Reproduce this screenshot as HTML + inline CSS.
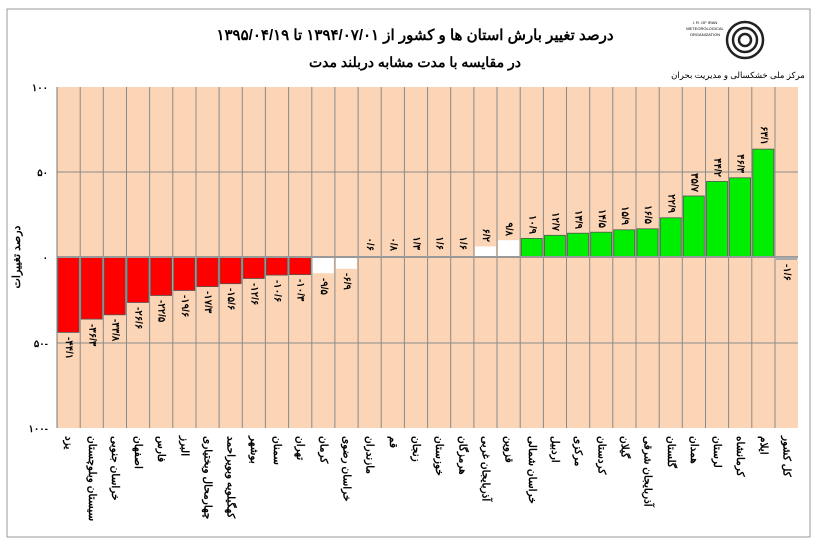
<!DOCTYPE html>
<html><head><meta charset="utf-8"><style>
html,body{margin:0;padding:0;background:#fff;}
svg{display:block;font-family:"Liberation Sans","Noto Sans CJK SC",sans-serif;}
.v{font-size:10px;font-weight:bold;fill:#000;}
.c{font-size:10.5px;font-weight:bold;fill:#000;}
</style></head><body>
<svg width="817" height="545" viewBox="0 0 817 545">
<rect x="7" y="9" width="803" height="528" fill="#fff" stroke="#999" stroke-width="1"/>
<text x="415" y="40" text-anchor="middle" font-size="15" font-weight="bold" direction="rtl">درصد تغییر بارش استان ها و کشور از ۱۳۹۴/۰۷/۰۱ تا ۱۳۹۵/۰۴/۱۹</text>
<text x="415" y="67" text-anchor="middle" font-size="14" font-weight="bold" direction="rtl">در مقایسه با مدت مشابه دربلند مدت</text>
<g fill="none" stroke="#222" stroke-width="2.5"><circle cx="745" cy="40" r="18"/><circle cx="745" cy="40" r="12"/><circle cx="745" cy="40" r="6"/></g>
<g font-size="4" text-anchor="middle"><text x="705" y="24">I. R. OF IRAN</text><text x="705" y="30">METEOROLOGICAL</text><text x="705" y="36">ORGANIZATION</text></g>
<text transform="translate(738,78)" text-anchor="middle" font-size="8.5">مرکز ملی خشکسالی و مدیریت بحران</text>
<rect x="57" y="87" width="741" height="341" fill="#fbd5b5"/>
<g stroke="#8a8a8a" stroke-width="1">
<line x1="57" y1="172" x2="798" y2="172"/><line x1="57" y1="343" x2="798" y2="343"/>
<line x1="80.2" y1="87" x2="80.2" y2="428"/><line x1="103.3" y1="87" x2="103.3" y2="428"/><line x1="126.5" y1="87" x2="126.5" y2="428"/><line x1="149.6" y1="87" x2="149.6" y2="428"/><line x1="172.8" y1="87" x2="172.8" y2="428"/><line x1="196" y1="87" x2="196" y2="428"/><line x1="219.1" y1="87" x2="219.1" y2="428"/><line x1="242.3" y1="87" x2="242.3" y2="428"/><line x1="265.4" y1="87" x2="265.4" y2="428"/><line x1="288.6" y1="87" x2="288.6" y2="428"/><line x1="311.8" y1="87" x2="311.8" y2="428"/><line x1="334.9" y1="87" x2="334.9" y2="428"/><line x1="358.1" y1="87" x2="358.1" y2="428"/><line x1="381.2" y1="87" x2="381.2" y2="428"/><line x1="404.4" y1="87" x2="404.4" y2="428"/><line x1="427.6" y1="87" x2="427.6" y2="428"/><line x1="450.7" y1="87" x2="450.7" y2="428"/><line x1="473.9" y1="87" x2="473.9" y2="428"/><line x1="497" y1="87" x2="497" y2="428"/><line x1="520.2" y1="87" x2="520.2" y2="428"/><line x1="543.4" y1="87" x2="543.4" y2="428"/><line x1="566.5" y1="87" x2="566.5" y2="428"/><line x1="589.7" y1="87" x2="589.7" y2="428"/><line x1="612.8" y1="87" x2="612.8" y2="428"/><line x1="636" y1="87" x2="636" y2="428"/><line x1="659.2" y1="87" x2="659.2" y2="428"/><line x1="682.3" y1="87" x2="682.3" y2="428"/><line x1="705.5" y1="87" x2="705.5" y2="428"/><line x1="728.6" y1="87" x2="728.6" y2="428"/><line x1="751.8" y1="87" x2="751.8" y2="428"/><line x1="775" y1="87" x2="775" y2="428"/>
</g>
<g stroke="#555" stroke-width="0.8">
<rect x="58" y="257" width="21" height="75.4" fill="#ff0000"/>
<rect x="81.2" y="257" width="21" height="62.1" fill="#ff0000"/>
<rect x="104.3" y="257" width="21" height="57.8" fill="#ff0000"/>
<rect x="127.5" y="257" width="21" height="45.5" fill="#ff0000"/>
<rect x="150.6" y="257" width="21" height="38.5" fill="#ff0000"/>
<rect x="173.8" y="257" width="21" height="33.5" fill="#ff0000"/>
<rect x="197" y="257" width="21" height="29.6" fill="#ff0000"/>
<rect x="220.1" y="257" width="21" height="26.7" fill="#ff0000"/>
<rect x="243.3" y="257" width="21" height="21.5" fill="#ff0000"/>
<rect x="266.4" y="257" width="21" height="18.1" fill="#ff0000"/>
<rect x="289.6" y="257" width="21" height="17.6" fill="#ff0000"/>
<rect x="312.8" y="257" width="21" height="16.2" fill="#fff" stroke="none"/>
<rect x="335.9" y="257" width="21" height="11.8" fill="#fff" stroke="none"/>
<rect x="474.9" y="246.4" width="21" height="10.6" fill="#fff" stroke="none"/>
<rect x="498" y="240.2" width="21" height="16.8" fill="#fff" stroke="none"/>
<rect x="521.2" y="238.4" width="21" height="18.6" fill="#00ee00"/>
<rect x="544.4" y="235.3" width="21" height="21.7" fill="#00ee00"/>
<rect x="567.5" y="233.2" width="21" height="23.8" fill="#00ee00"/>
<rect x="590.7" y="232.2" width="21" height="24.8" fill="#00ee00"/>
<rect x="613.8" y="229.8" width="21" height="27.2" fill="#00ee00"/>
<rect x="637" y="228.8" width="21" height="28.2" fill="#00ee00"/>
<rect x="660.2" y="217.8" width="21" height="39.2" fill="#00ee00"/>
<rect x="683.3" y="196" width="21" height="61" fill="#00ee00"/>
<rect x="706.5" y="181.4" width="21" height="75.6" fill="#00ee00"/>
<rect x="729.6" y="177.8" width="21" height="79.2" fill="#00ee00"/>
<rect x="752.8" y="149.1" width="21" height="107.9" fill="#00ee00"/>
</g>
<line x1="57" y1="257" x2="798" y2="257" stroke="#999" stroke-width="2"/>
<rect x="776" y="257" width="21" height="3" fill="#aaa"/>
<line x1="57" y1="87" x2="57" y2="428" stroke="#777"/>
<g font-size="10" font-weight="bold" text-anchor="end">
<text x="48" y="91">۱۰۰</text><text x="48" y="176">۵۰</text><text x="48" y="261">۰</text><text x="48" y="347">۵۰-</text><text x="48" y="432">۱۰۰-</text>
</g>
<text transform="translate(20,257) rotate(-90)" text-anchor="middle" font-size="11" font-weight="bold">درصد تغییرات</text>
<g class="v" dominant-baseline="central">
<text transform="translate(68.6,337) rotate(90)">-۴۴/۱</text>
<text transform="translate(91.8,324) rotate(90)">-۳۶/۳</text>
<text transform="translate(114.9,319) rotate(90)">-۳۳/۸</text>
<text transform="translate(138.1,307) rotate(90)">-۲۶/۶</text>
<text transform="translate(161.2,300) rotate(90)">-۲۲/۵</text>
<text transform="translate(184.4,295) rotate(90)">-۱۹/۶</text>
<text transform="translate(207.6,291) rotate(90)">-۱۷/۳</text>
<text transform="translate(230.7,288) rotate(90)">-۱۵/۶</text>
<text transform="translate(253.9,283) rotate(90)">-۱۲/۶</text>
<text transform="translate(277,280) rotate(90)">-۱۰/۶</text>
<text transform="translate(300.2,279) rotate(90)">-۱۰/۳</text>
<text transform="translate(323.4,278) rotate(90)">-۹/۵</text>
<text transform="translate(346.5,273) rotate(90)">-۶/۹</text>
<text transform="translate(786.6,264) rotate(90)">-۱/۶</text>
</g>
<g class="v" dominant-baseline="central" text-anchor="end">
<text transform="translate(369.7,251) rotate(90)">۰/۶</text>
<text transform="translate(392.8,251) rotate(90)">۰/۸</text>
<text transform="translate(416,250) rotate(90)">۱/۳</text>
<text transform="translate(439.2,250) rotate(90)">۱/۶</text>
<text transform="translate(462.3,250) rotate(90)">۱/۶</text>
<text transform="translate(485.5,242) rotate(90)">۶/۲</text>
<text transform="translate(508.6,236) rotate(90)">۹/۸</text>
<text transform="translate(531.8,234) rotate(90)">۱۰/۹</text>
<text transform="translate(555,231) rotate(90)">۱۲/۷</text>
<text transform="translate(578.1,229) rotate(90)">۱۳/۹</text>
<text transform="translate(601.3,228) rotate(90)">۱۴/۵</text>
<text transform="translate(624.4,225) rotate(90)">۱۵/۹</text>
<text transform="translate(647.6,224) rotate(90)">۱۶/۵</text>
<text transform="translate(670.8,213) rotate(90)">۲۲/۹</text>
<text transform="translate(693.9,192) rotate(90)">۳۵/۷</text>
<text transform="translate(717.1,177) rotate(90)">۴۴/۲</text>
<text transform="translate(740.2,173) rotate(90)">۴۶/۳</text>
<text transform="translate(763.4,145) rotate(90)">۶۳/۱</text>
</g>
<g class="c" dominant-baseline="central" text-anchor="start">
<text transform="translate(68.6,436) rotate(90)">یزد</text>
<text transform="translate(91.8,436) rotate(90)">سیستان وبلوچستان</text>
<text transform="translate(114.9,436) rotate(90)">خراسان جنوبی</text>
<text transform="translate(138.1,436) rotate(90)">اصفهان</text>
<text transform="translate(161.2,436) rotate(90)">فارس</text>
<text transform="translate(184.4,436) rotate(90)">البرز</text>
<text transform="translate(207.6,436) rotate(90)">چهارمحال وبختیاری</text>
<text transform="translate(230.7,436) rotate(90)">کهگیلویه وبویراحمد</text>
<text transform="translate(253.9,436) rotate(90)">بوشهر</text>
<text transform="translate(277,436) rotate(90)">سمنان</text>
<text transform="translate(300.2,436) rotate(90)">تهران</text>
<text transform="translate(323.4,436) rotate(90)">کرمان</text>
<text transform="translate(346.5,436) rotate(90)">خراسان رضوی</text>
<text transform="translate(369.7,436) rotate(90)">مازندران</text>
<text transform="translate(392.8,436) rotate(90)">قم</text>
<text transform="translate(416,436) rotate(90)">زنجان</text>
<text transform="translate(439.2,436) rotate(90)">خوزستان</text>
<text transform="translate(462.3,436) rotate(90)">هرمزگان</text>
<text transform="translate(485.5,436) rotate(90)">آذربایجان غربی</text>
<text transform="translate(508.6,436) rotate(90)">قزوین</text>
<text transform="translate(531.8,436) rotate(90)">خراسان شمالی</text>
<text transform="translate(555,436) rotate(90)">اردبیل</text>
<text transform="translate(578.1,436) rotate(90)">مرکزی</text>
<text transform="translate(601.3,436) rotate(90)">کردستان</text>
<text transform="translate(624.4,436) rotate(90)">گیلان</text>
<text transform="translate(647.6,436) rotate(90)">آذربایجان شرقی</text>
<text transform="translate(670.8,436) rotate(90)">گلستان</text>
<text transform="translate(693.9,436) rotate(90)">همدان</text>
<text transform="translate(717.1,436) rotate(90)">لرستان</text>
<text transform="translate(740.2,436) rotate(90)">کرمانشاه</text>
<text transform="translate(763.4,436) rotate(90)">ایلام</text>
<text transform="translate(786.6,436) rotate(90)">کل کشور</text>
</g>
</svg>
</body></html>
